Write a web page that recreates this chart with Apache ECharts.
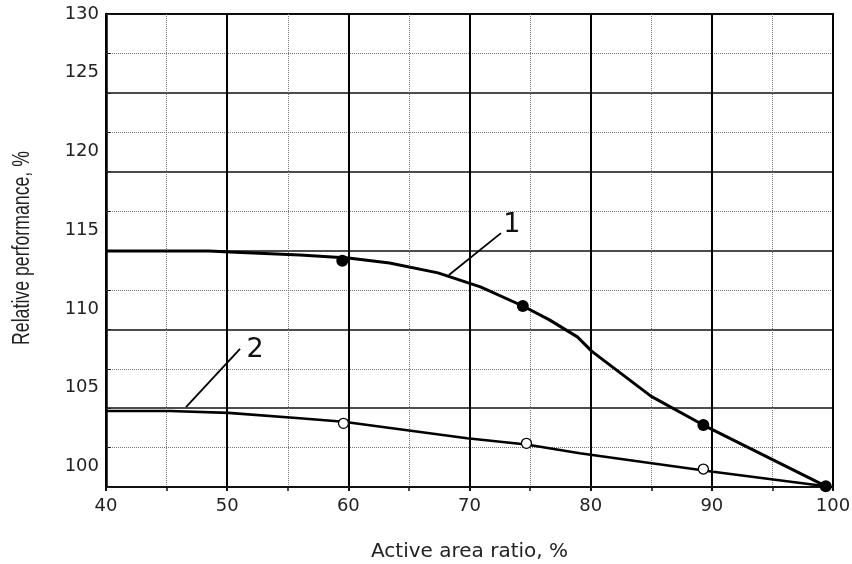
<!DOCTYPE html>
<html><head><meta charset="utf-8">
<script src="https://cdn.jsdelivr.net/npm/echarts@6/dist/echarts.min.js"></script>
<style>html,body{margin:0;padding:0;background:#fff}#c{width:852px;height:564px}</style>
</head><body><div id="c"></div>
<script>
// ---- data ----
const xTicks = [40, 50, 60, 70, 80, 90, 100];
const yTicks = [100, 105, 110, 115, 120, 125, 130];

const curve1X = [40, 48.5, 50.2, 56.0, 60.0, 63.4, 67.4, 70.9, 74.4, 76.6, 78.9, 80.1, 85.0, 89.3, 99.4];
const curve1Y = [114.97, 114.97, 114.9, 114.72, 114.53, 114.21, 113.58, 112.69, 111.48, 110.6, 109.52, 108.6, 105.75, 103.93, 100.05];
const points1X = [59.5, 74.4, 89.3, 99.4];
const points1Y = [114.35, 111.48, 103.93, 100.05];

const curve2X = [40, 45.3, 50.1, 56.0, 59.6, 69.8, 74.7, 79.1, 90.1, 99.4];
const curve2Y = [104.82, 104.82, 104.7, 104.36, 104.14, 103.09, 102.7, 102.14, 100.97, 100.05];
const points2X = [59.6, 74.7, 89.3];
const points2Y = [104.04, 102.77, 101.14];

const curveNames = ['1', '2'];
const leader1X = [68.3, 72.6];
const leader1Y = [113.45, 116.1];
const leader2X = [46.6, 51.06];
const leader2Y = [105.06, 108.76];
const tagX = [73.5, 52.3];
const tagY = [116.6, 108.7];

const xTitle = 'Active area ratio, %';
const yTitle = 'Relative performance, %';

// ---- build ----
const zip = (xs, ys) => xs.map((x, i) => [x, ys[i]]);
const yMin = yTicks[0], yMax = yTicks[yTicks.length - 1];
const LABEL_SHIFT = 1.3;
const yLabelPos = yTicks.map(v => v === yMax ? v : v + LABEL_SHIFT);
const tickFont = "'DejaVu Sans', sans-serif";
const dotted = { color: '#777', width: 1, type: [1, 1] };

const chart = echarts.init(document.getElementById('c'), null, { renderer: 'canvas' });
chart.setOption({
  animation: false,
  backgroundColor: '#fff',
  grid: {
    left: 106, right: 19, top: 14, bottom: 77, containLabel: false, outerBoundsMode: 'none',
    show: true, borderColor: '#000', borderWidth: 2, backgroundColor: 'transparent'
  },
  graphic: [{
    type: 'text', x: 22.5, y: 248, rotation: Math.PI / 2, scaleX: 0.77,
    style: {
      text: yTitle, fontFamily: "'Liberation Sans', sans-serif", fontSize: 23,
      fill: '#222', align: 'center', verticalAlign: 'middle'
    }
  }],
  xAxis: {
    type: 'value', min: xTicks[0], max: xTicks[xTicks.length - 1], interval: 10,
    axisLine: { show: true, onZero: false, lineStyle: { color: '#111', width: 2 } },
    axisTick: { show: true, length: 4, lineStyle: { color: '#111', width: 2 } },
    minorTick: { show: true, splitNumber: 2, length: 4, lineStyle: { color: '#111', width: 1.5 } },
    axisLabel: { fontFamily: tickFont, fontSize: 18, color: '#222', margin: 10 },
    splitLine: { show: true, lineStyle: { color: '#000', width: 2 } },
    minorSplitLine: { show: true, lineStyle: dotted },
    name: xTitle, nameLocation: 'middle', nameGap: 55,
    nameTextStyle: { fontFamily: tickFont, fontSize: 20, color: '#222' }
  },
  yAxis: {
    type: 'value', min: yMin, max: yMax, interval: 5,
    axisLine: { show: true, onZero: false, lineStyle: { color: '#000', width: 2.5 } },
    axisTick: { show: true, inside: true, length: 5, lineStyle: { color: '#222', width: 1 } },
    minorTick: { show: true, splitNumber: 2, length: 5, lineStyle: { color: '#222', width: 1 } },
    axisLabel: {
      fontFamily: tickFont, fontSize: 18, color: '#222', margin: 7,
      customValues: yLabelPos,
      formatter: function (v) {
        const i = yLabelPos.findIndex(p => Math.abs(p - v) < 1e-6);
        return i >= 0 ? String(yTicks[i]) : '';
      }
    },
    splitLine: { show: true, lineStyle: { color: '#111', width: 1.6 } },
    minorSplitLine: { show: true, lineStyle: dotted }
  },
  series: [
    { type: 'line', name: 'curve 1', data: zip(curve1X, curve1Y), symbol: 'none', lineStyle: { color: '#000', width: 3 }, z: 3 },
    { type: 'line', name: 'curve 2', data: zip(curve2X, curve2Y), symbol: 'none', lineStyle: { color: '#000', width: 2.6 }, z: 3 },
    { type: 'scatter', data: zip(points1X, points1Y), symbol: 'circle', symbolSize: 12, itemStyle: { color: '#000', opacity: 1 }, z: 4 },
    { type: 'scatter', data: zip(points2X, points2Y), symbol: 'circle', symbolSize: 10, itemStyle: { color: '#fff', borderColor: '#000', borderWidth: 1.3, opacity: 1 }, z: 4 },
    { type: 'line', data: zip(leader1X, leader1Y), symbol: 'none', lineStyle: { color: '#000', width: 1.8 }, z: 3 },
    { type: 'line', data: zip(leader2X, leader2Y), symbol: 'none', lineStyle: { color: '#000', width: 1.8 }, z: 3 },
    {
      type: 'scatter', symbolSize: 1, itemStyle: { color: 'rgba(0,0,0,0)', opacity: 1 }, z: 5,
      data: curveNames.map((n, i) => ({ name: n, value: [tagX[i], tagY[i]] })),
      label: { show: true, position: 'inside', formatter: '{b}', fontFamily: tickFont, fontSize: 27, color: '#111', opacity: 1 }
    }
  ]
});
</script>
</body></html>
